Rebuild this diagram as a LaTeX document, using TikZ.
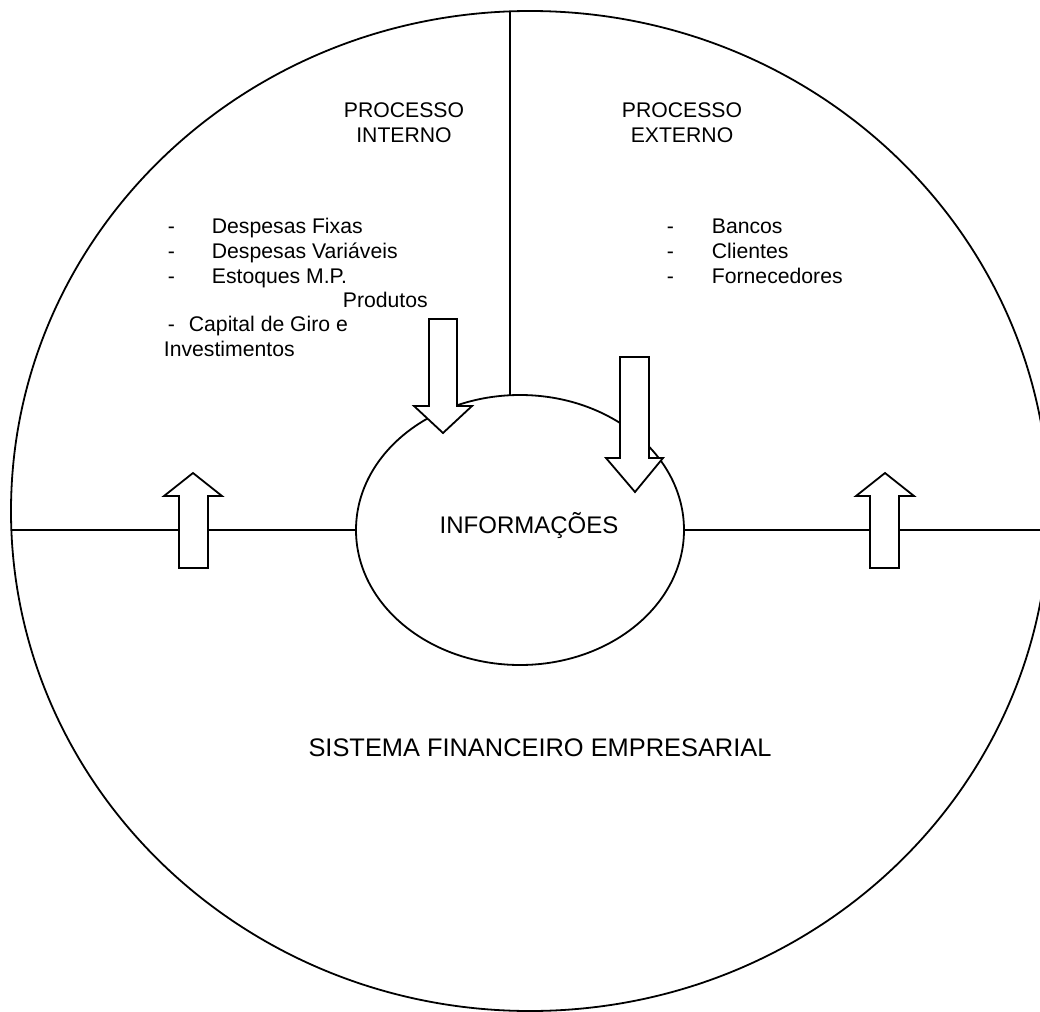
\documentclass[tikz,border=0pt]{standalone}
\usepackage{fontspec}
\setmainfont{Liberation Sans}
\usetikzlibrary{shapes.geometric}
\newcommand{\itemfont}{\fontsize{10.6}{12.1}\selectfont}
\newcommand{\infofont}{\fontsize{12}{14}\selectfont}
\newcommand{\titlefont}{\fontsize{12.7}{15}\selectfont}

\begin{document}
\begin{tikzpicture}[x=0.5pt, y=-0.5pt, line width=0.9pt,
    txt/.style={inner sep=0, font=\itemfont},
    ring/.style={draw, ellipse, inner sep=0, outer sep=0},
    blockarrow/.style={draw, fill=white, line join=miter}]
    \useasboundingbox (0,0) rectangle (1040,1012);
    \clip (0,0) rectangle (1040,1012);

    % Sistema e informações
    \node[ring, minimum width=519pt, minimum height=500pt] (sis) at (530,511) {};
    \node[ring, minimum width=164pt, minimum height=135pt] (info) at (520,530) {};

    % Divisões
    \coordinate (div) at (510,0);
    \draw (info.west) -- (info.west -| sis.west);
    \draw (info.east) -- (info.east -| sis.east);
    \draw (sis.north -| div) -- (info.north -| div);

    % Setas
    \draw[blockarrow] (193,473) -- (222,496) -- (208,496) -- (208,568) -- (179,568) -- (179,496) -- (164,496) -- cycle;
    \draw[blockarrow] (885,473) -- (914,496) -- (899,496) -- (899,568) -- (870,568) -- (870,496) -- (856,496) -- cycle;
    \draw[blockarrow] (443,433) -- (472,406) -- (457,406) -- (457,319) -- (429,319) -- (429,406) -- (414,406) -- cycle;
    \draw[blockarrow] (635,492) -- (663,458) -- (649,458) -- (649,357) -- (620,357) -- (620,458) -- (606,458) -- cycle;

    % Processos
    \node[txt, align=center, anchor=base] (procint) at (404,142) {PROCESSO\\INTERNO};
    \node[txt, align=center, anchor=base] (procext) at (682,142) {PROCESSO\\EXTERNO};

    % Itens internos
    \foreach \t [count=\i] in {Despesas Fixas, Despesas Variáveis, Estoques M.P.}
        \node[txt, anchor=base west] (int\i) at (167, 208+25*\i) {\makebox[22pt][l]{-}\t};
    \node[txt, anchor=base west] (prod) at (342,307) {Produtos};
    \node[txt, anchor=base west] (cap) at (167,331) {\makebox[10.5pt][l]{-}Capital de Giro e};
    \node[txt, anchor=base west] (inv) at (163,356) {Investimentos};

    % Itens externos
    \foreach \t [count=\i] in {Bancos, Clientes, Fornecedores}
        \node[txt, anchor=base west] (ext\i) at (666, 208+25*\i) {\makebox[22.5pt][l]{-}\t};

    % Etiquetas
    \node[txt, font=\infofont, anchor=base] (infotxt) at (529,533) {INFORMAÇÕES};
    \node[txt, font=\titlefont, anchor=base] (sistxt) at (540,756) {SISTEMA FINANCEIRO EMPRESARIAL};
\end{tikzpicture}
\end{document}
